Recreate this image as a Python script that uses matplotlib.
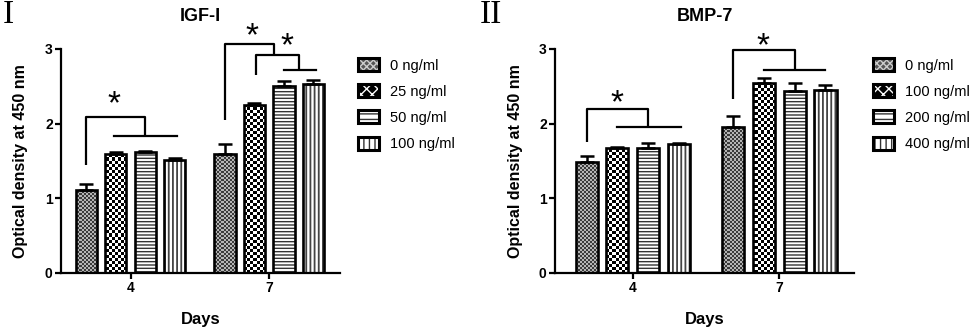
import matplotlib
matplotlib.use("Agg")
import numpy as np
import matplotlib.pyplot as plt
from matplotlib.patches import Patch
from matplotlib.colors import ListedColormap

plt.rcParams["font.family"] = ["Liberation Sans", "DejaVu Sans"]

days = ["4", "7"]
igf_labels = ["0 ng/ml", "25 ng/ml", "50 ng/ml", "100 ng/ml"]
bmp_labels = ["0 ng/ml", "100 ng/ml", "200 ng/ml", "400 ng/ml"]

# rows = day 4, day 7 ; columns = concentration
igf_vals = [[1.11, 1.60, 1.62, 1.52], [1.59, 2.25, 2.50, 2.53]]
igf_err = [[0.08, 0.02, 0.01, 0.02], [0.14, 0.03, 0.07, 0.06]]
bmp_vals = [[1.48, 1.67, 1.68, 1.73], [1.96, 2.54, 2.44, 2.45]]
bmp_err = [[0.09, 0.02, 0.06, 0.01], [0.14, 0.07, 0.11, 0.07]]

offsets = [-1.5, -0.5, 0.5, 1.5]
bar_w = 0.72

# fill per concentration: checker (cell px, dark, light) or hatch (hatch, colour, lw)
fills = [
    ("checker", 2.0, "#3a3a3a", "#b4b4b4"),
    ("checker", 3.0, "black", "white"),
    ("hatch", "-----", "#333333", 1.0),
    ("hatch", "||||", "#444444", 1.3),
]
# legend boxes use a small hatch instead of the checker texture
legend_fills = [
    ("#555555", "xxxxx", "#cccccc", 0.6),
    ("black", "xxx", "white", 1.1),
    ("white", "---", "#333333", 1.0),
    ("white", "|||", "#333333", 1.2),
]


def checker(ax, patch, cell, dark, light):
    fig = ax.figure
    pos = ax.get_position()
    w_px = pos.width * fig.get_figwidth() * fig.dpi
    h_px = pos.height * fig.get_figheight() * fig.dpi
    nx, ny = int(w_px / cell), int(h_px / cell)
    arr = np.add.outer(np.arange(ny), np.arange(nx)) % 2
    x0, x1 = ax.get_xlim()
    y0, y1 = ax.get_ylim()
    im = ax.imshow(arr, cmap=ListedColormap([dark, light]), extent=(x0, x1, y0, y1),
                   origin="lower", interpolation="nearest", aspect="auto", zorder=2)
    im.set_clip_path(patch)
    ax.set_xlim(x0, x1)
    ax.set_ylim(y0, y1)


def make_bar(ax, x, h, k):
    f = fills[k]
    if f[0] == "checker":
        bars = ax.bar(x, h, bar_w, color="white", linewidth=0, zorder=1)
        checker(ax, bars[0], f[1], f[2], f[3])
    else:
        with plt.rc_context({"hatch.linewidth": f[3]}):
            ax.bar(x, h, bar_w, color="white", edgecolor=f[2], hatch=f[1],
                   linewidth=0, zorder=2)
    ax.bar(x, h, bar_w, fill=False, edgecolor="black", linewidth=1.9, zorder=3)


def legend_handles():
    hs = []
    for face, hatch, hcol, hlw in legend_fills:
        with plt.rc_context({"hatch.linewidth": hlw}):
            p1 = Patch(facecolor=face, edgecolor=hcol, hatch=hatch, linewidth=0)
        p2 = Patch(fill=False, edgecolor="black", linewidth=2.2)
        hs.append((p1, p2))
    return hs


def bracket(ax, x0, x1, y, y0, y1):
    ax.plot([x0, x0, x1, x1], [y0, y, y, y1], color="black", lw=1.6,
            clip_on=False, solid_capstyle="butt", zorder=4)


def hline(ax, y, x0, x1):
    ax.plot([x0, x1], [y, y], color="black", lw=1.6, clip_on=False, zorder=4)


def star(ax, x, y):
    ax.text(x, y - 0.07, "*", fontsize=24, ha="center", va="center", clip_on=False)


def panel(ax, vals, errs, gap, xlim, title):
    ax.set_xlim(*xlim)
    ax.set_ylim(0, 3)
    centers = [[g * gap + o for o in offsets] for g in range(2)]
    for g in range(2):
        for k in range(4):
            make_bar(ax, centers[g][k], vals[g][k], k)
        ax.errorbar(centers[g], vals[g], yerr=[[0] * 4, errs[g]], fmt="none",
                    ecolor="black", elinewidth=1.8, capsize=5, capthick=1.8,
                    zorder=4)
    ax.set_xlim(*xlim)
    ax.set_ylim(0, 3)
    ax.set_yticks([0, 1, 2, 3])
    ax.set_xticks([0, gap])
    ax.set_xticklabels(days)
    for s in ["top", "right"]:
        ax.spines[s].set_visible(False)
    for s in ["left", "bottom"]:
        ax.spines[s].set_linewidth(1.6)
    ax.tick_params(width=1.6, length=4, pad=2, labelsize=10)
    for t in ax.get_xticklabels() + ax.get_yticklabels():
        t.set_fontweight("bold")
    ax.set_ylabel("Optical density at 450 nm", fontsize=11.5, fontweight="bold")
    ax.set_xlabel("Days", fontsize=12, fontweight="bold")
    ax.xaxis.set_label_coords(0.5, -0.175)
    ax.text(0.5, 1.143, title, transform=ax.transAxes, ha="center", va="center",
            fontsize=13, fontweight="bold")
    return centers


fig = plt.figure(figsize=(9.8, 3.31), dpi=100)
ax1 = fig.add_axes([61 / 980, 58 / 331, 279 / 980, 224 / 331])
ax2 = fig.add_axes([555 / 980, 58 / 331, 299 / 980, 224 / 331])

c = panel(ax1, igf_vals, igf_err, 4.7, (-2.36, 7.1), "IGF-I")
ax1.yaxis.set_label_coords(-0.118, 0.5)
bracket(ax1, c[0][0], c[0][2], 2.09, 1.45, 1.83)
hline(ax1, 1.83, c[0][1] - 0.06, c[0][3] + 0.07)
star(ax1, c[0][1] - 0.06, 2.32)
m = (c[1][2] + c[1][3]) / 2
bracket(ax1, c[1][0], (c[1][1] + m) / 2 - 0.1, 3.07, 2.05, 2.92)
bracket(ax1, c[1][1] + 0.05, m, 2.92, 2.65, 2.72)
hline(ax1, 2.72, c[1][2], c[1][3] + 0.1)
star(ax1, c[1][1] - 0.08, 3.23)
star(ax1, c[1][2] + 0.1, 3.1)

c = panel(ax2, bmp_vals, bmp_err, 4.78, (-2.53, 7.21), "BMP-7")
ax2.yaxis.set_label_coords(-0.107, 0.5)
bracket(ax2, c[0][0], c[0][2], 2.2, 1.76, 1.95)
hline(ax2, 1.95, c[0][1], c[0][3] + 0.08)
star(ax2, c[0][1], 2.34)
bracket(ax2, c[1][0], c[1][2], 2.99, 2.33, 2.72)
hline(ax2, 2.72, c[1][1], c[1][3])
star(ax2, c[1][1] - 0.05, 3.1)

for lbls, x in [(igf_labels, 358), (bmp_labels, 873)]:
    fig.legend(legend_handles(), lbls, loc="upper left",
               bbox_to_anchor=(x / 980, 1 - 58 / 331), frameon=False,
               fontsize=10.5, handlelength=1.45, handleheight=1.0,
               handletextpad=0.75, labelspacing=0.8, borderpad=0,
               borderaxespad=0)

fig.text(8 / 980, 1 - 15 / 331, "I", fontsize=24, family="Liberation Serif",
         ha="center", va="center")
fig.text(491 / 980, 1 - 15 / 331, "II", fontsize=24, family="Liberation Serif",
         ha="center", va="center")

fig.savefig("out.png", dpi=100)
